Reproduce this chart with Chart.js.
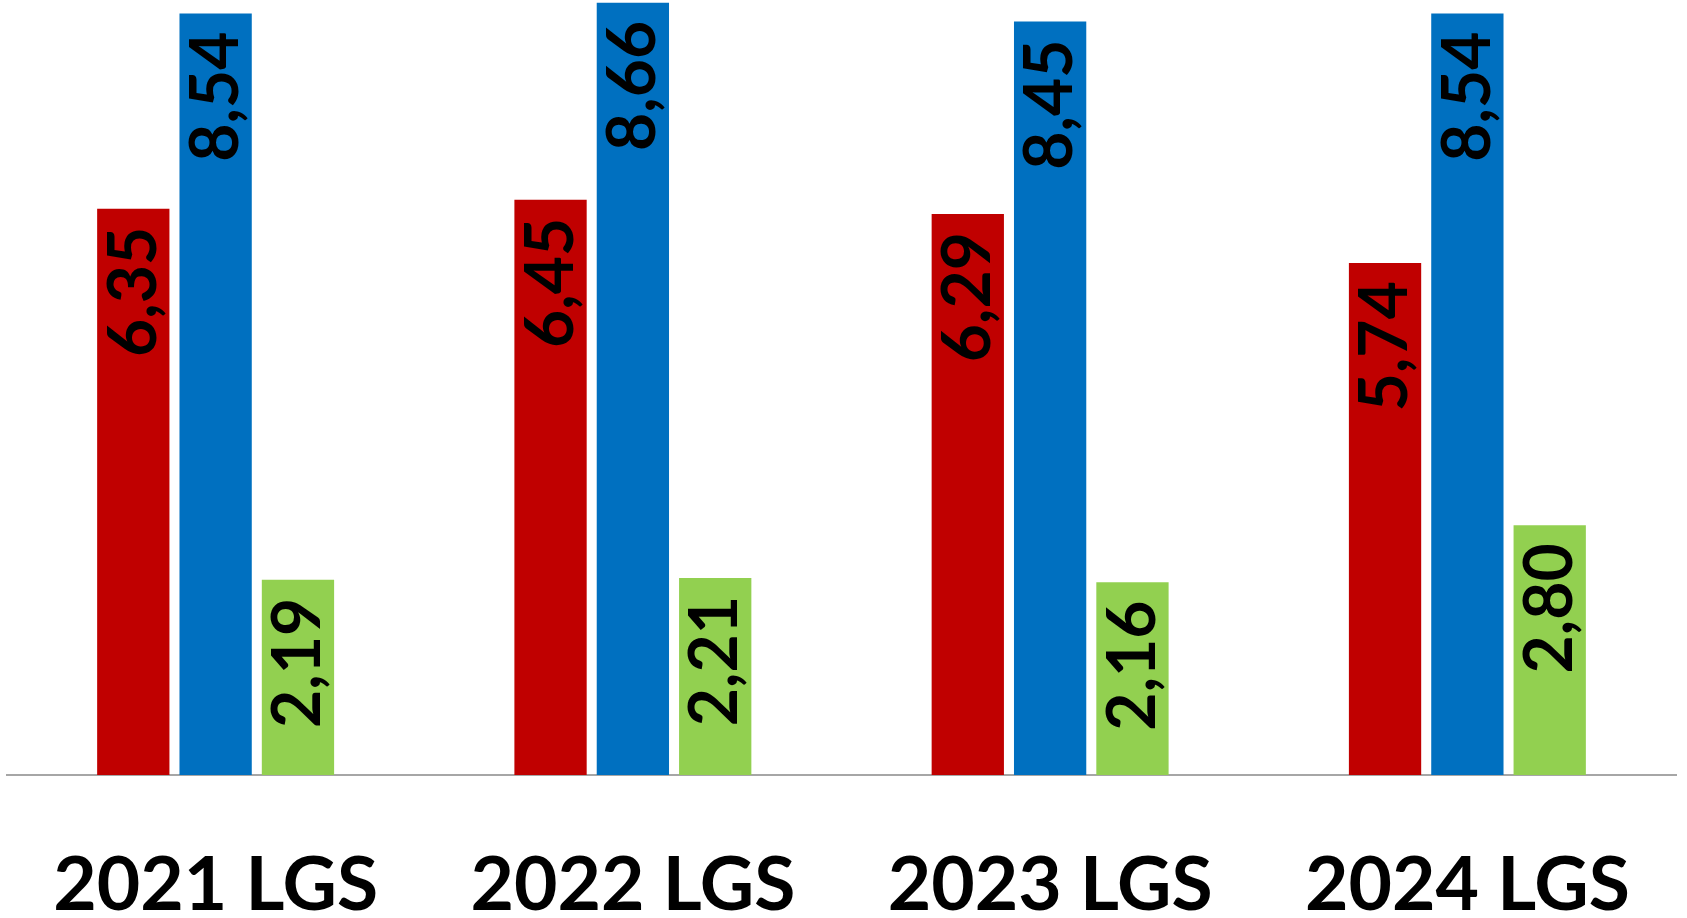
<!DOCTYPE html>
<html>
<head>
<meta charset="utf-8">
<script src="https://cdn.jsdelivr.net/npm/chart.js@4.4.1/dist/chart.umd.min.js"></script>
<style>
  html, body { margin: 0; padding: 0; background: #fff; }
  #wrap { width: 1687px; height: 918px; }
</style>
</head>
<body>
<div id="wrap"><canvas id="lgs-chart" width="1687" height="918"></canvas></div>
<script>
const categories = ['2021 LGS', '2022 LGS', '2023 LGS', '2024 LGS'];
const redValues = [6.35, 6.45, 6.29, 5.74];
const blueValues = [8.54, 8.66, 8.45, 8.54];
const greenValues = [2.19, 2.21, 2.16, 2.80];

function formatValue(v) {
    return v.toFixed(2).replace('.', ',');
}

// value labels drawn rotated inside the top of each bar
const barLabels = {
    id: 'barLabels',
    afterDatasetsDraw(chart) {
        const ctx = chart.ctx;
        chart.data.datasets.forEach(function (ds, di) {
            const meta = chart.getDatasetMeta(di);
            meta.data.forEach(function (bar, i) {
                ctx.save();
                ctx.translate(bar.x + 1, bar.y + 18);
                ctx.rotate(-Math.PI / 2);
                ctx.font = 'bold 66px Lato';
                ctx.fillStyle = '#000';
                ctx.textAlign = 'right';
                ctx.textBaseline = 'middle';
                ctx.fillText(formatValue(ds.data[i]), 0, 0);
                ctx.restore();
            });
        });
    }
};

const ctx = document.getElementById('lgs-chart').getContext('2d');
const myChart = new Chart(ctx, {
    type: 'bar',
    data: {
        labels: categories,
        datasets: [
            { data: redValues, backgroundColor: '#C00000' },
            { data: blueValues, backgroundColor: '#0070C0' },
            { data: greenValues, backgroundColor: '#92D050' }
        ]
    },
    options: {
        responsive: false,
        animation: false,
        categoryPercentage: 0.592,
        barPercentage: 0.878,
        layout: { padding: { left: 7, right: 11, top: 0, bottom: 0 } },
        plugins: { legend: { display: false }, tooltip: { enabled: false } },
        scales: {
            x: {
                grid: { display: false, drawTicks: false },
                border: { display: true, color: '#a6a6a6', width: 2 },
                ticks: {
                    color: '#000',
                    padding: 0,
                    font: { family: 'Lato', weight: 'bold', size: 75, lineHeight: 2.96 }
                },
                afterFit: function (scale) { scale.height = 143; }
            },
            y: {
                display: false,
                min: 0,
                max: 8.69
            }
        }
    },
    plugins: [barLabels]
});
</script>
</body>
</html>
